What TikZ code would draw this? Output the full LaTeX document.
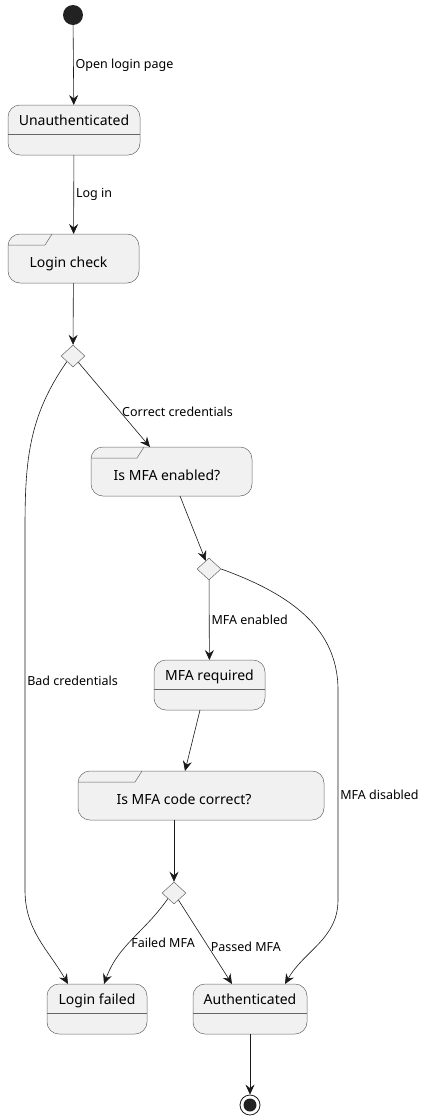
\documentclass[tikz,border=0pt]{standalone}
\usepackage{fontspec}
\setmainfont{Noto Sans}
\usetikzlibrary{shapes.geometric,arrows.meta}
\definecolor{statefill}{HTML}{F1F1F1}
\definecolor{dot}{HTML}{222222}

\begin{document}
\begin{tikzpicture}[x=1pt, y=-1pt,
	box/.style={draw=black!60, line width=.5pt},
	state/.style={box, fill=statefill, rounded corners=12pt, inner sep=0pt, outer sep=0pt,
		minimum height=50pt, text height=11pt, text depth=21pt, font=\fontsize{14}{16}\selectfont},
	comp/.style={box, fill=statefill, rounded corners=12pt, inner sep=0pt, outer sep=0pt,
		minimum height=49pt, text height=22pt, text depth=4pt, font=\fontsize{14}{16}\selectfont},
	choice/.style={box, fill=statefill, diamond, inner sep=0pt, minimum width=24pt, minimum height=22pt},
	edge/.style={draw=black!90, line width=.6pt, -{Stealth[length=10pt, width=9pt, inset=3.5pt]}},
	lbl/.style={right, inner sep=2pt, font=\fontsize{12.5}{14}\selectfont}]
	\useasboundingbox (0,0) rectangle (426,1120);

	% states
	\node[circle, fill=dot, minimum size=20pt, inner sep=0pt] (start) at (73,15) {};
	\node[state, minimum width=132pt] (unauth) at (74,130) {Unauthenticated};
	\node[comp, minimum width=131pt] (lcheck) at (73.5,258.5) {Login check\hspace*{10pt}};
	\node[choice] (d1) at (73,356) {};
	\node[comp, minimum width=161pt] (mfaen) at (171.5,471.5) {Is MFA enabled?\hspace*{9pt}};
	\node[choice] (d2) at (209,569) {};
	\node[state, minimum width=111pt] (mfareq) at (209.5,685) {MFA required};
	\node[comp, minimum width=246pt] (mfacode) at (201,795.5) {Is MFA code correct?\hspace*{34pt}};
	\node[choice] (d3) at (174,893) {};
	\node[state, minimum width=100pt] (failed) at (97,1009) {Login failed};
	\node[state, minimum width=114pt] (authd) at (250,1009) {Authenticated};
	\node[circle, draw=black!90, line width=.8pt, minimum size=20pt, inner sep=0pt,
		path picture={\fill[dot] (path picture bounding box.center) circle (6.5pt);}] (end) at (250,1105) {};

	% dividers and tabs
	\foreach \s in {unauth,mfareq,failed,authd}
		\draw[box] ([yshift=-4pt]\s.west) -- ([yshift=-4pt]\s.east);
	\foreach \s/\w in {lcheck/44,mfaen/53,mfacode/64}
		\draw[box] ([yshift=-11pt]\s.north west) -- ++(\w-7,0) -- ++(7,-11);

	% transitions
	\draw[edge] (start) -- node[lbl]{Open login page} (unauth);
	\draw[edge] (unauth) -- node[lbl]{Log in} (lcheck);
	\draw[edge] (lcheck) -- (d1);
	\draw[edge] (d1) -- node[lbl, pos=.58]{Correct credentials} ([xshift=-21.5pt]mfaen.north);
	\draw[edge] ([xshift=8.5pt]mfaen.south) -- (d2);
	\draw[edge] (d2) -- node[lbl]{MFA enabled} (mfareq);
	\draw[edge] ([xshift=-9.5pt]mfareq.south) -- ([xshift=-16pt]mfacode.north);
	\draw[edge] ([xshift=-27pt]mfacode.south) -- (d3);
	\draw[edge] (d3.south west) to[out=235, in=70] node[lbl, pos=.55]{Failed MFA} ([xshift=7pt]failed.north);
	\draw[edge] (d3) -- node[lbl, pos=.56]{Passed MFA} ([xshift=-18pt]authd.north);
	\draw[edge] (d1.south west) to[out=235, in=90] (25,530) -- node[lbl, pos=.42]{Bad credentials} (25,890)
		to[out=-90, in=120] ([xshift=-29pt]failed.north);
	\draw[edge] (d2.east) to[out=-20, in=90] (338,690) -- node[lbl, pos=.5]{MFA disabled} (338,900)
		to[out=-90, in=60] ([xshift=35pt]authd.north);
	\draw[edge] (authd) -- (end);
\end{tikzpicture}
\end{document}
